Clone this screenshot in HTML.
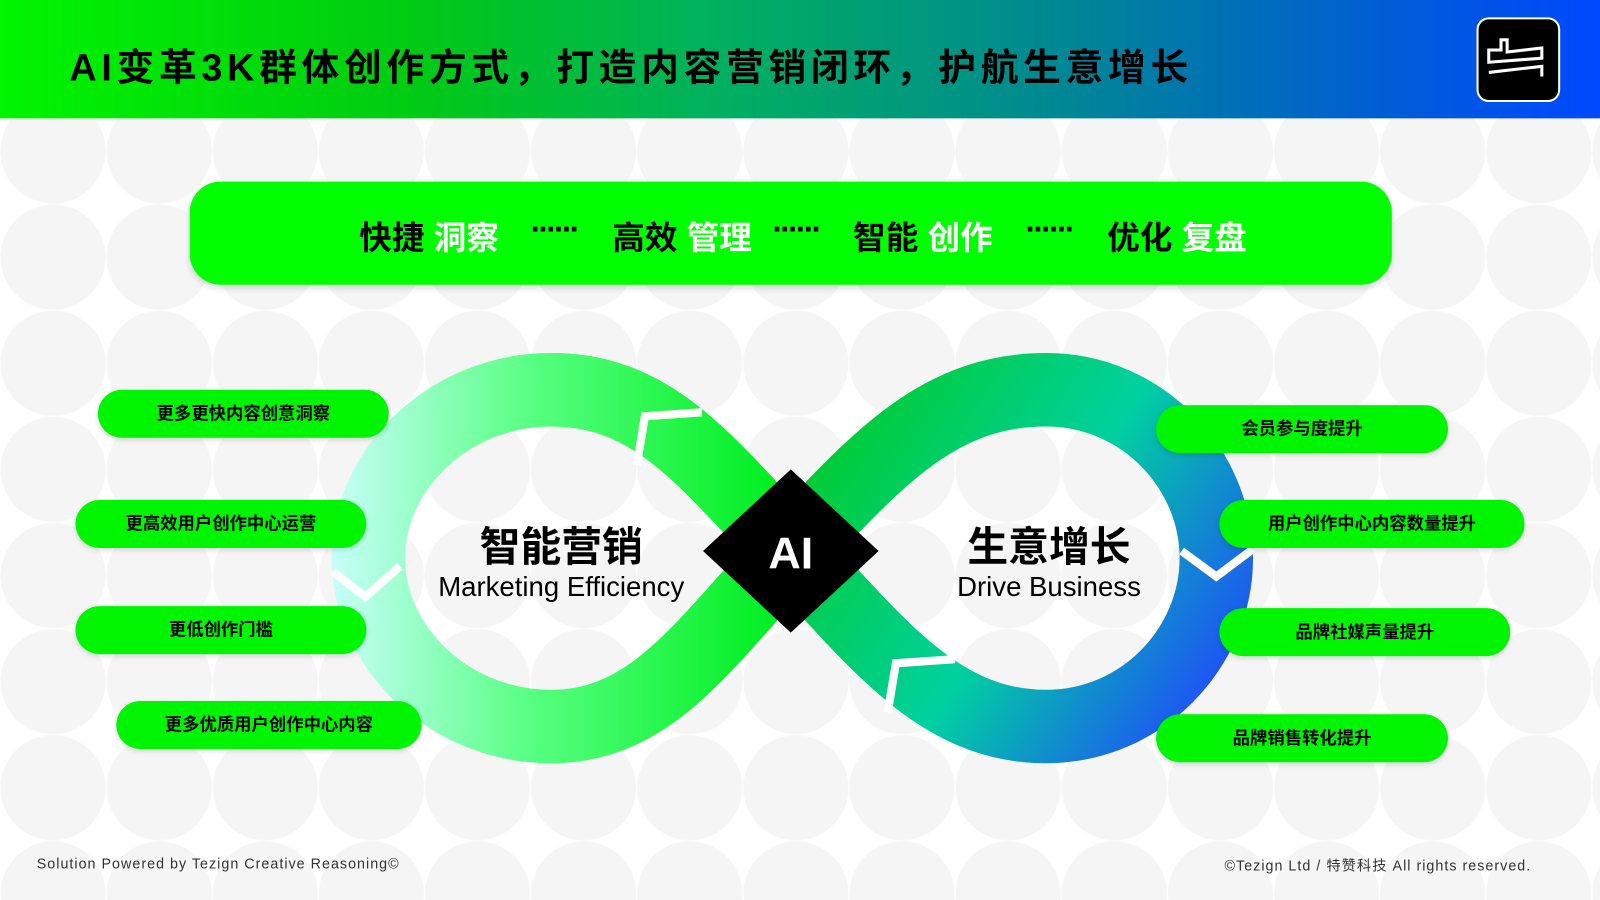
<!DOCTYPE html>
<html><head><meta charset="utf-8"><style>
html,body{margin:0;padding:0;width:1600px;height:900px;overflow:hidden;background:#fff}
#s{position:absolute;left:0;top:0;width:1568px;height:882px;transform:scale(1.0204);transform-origin:0 0;
background:#fff radial-gradient(circle at 52px 52px,#f5f5f5 0,#f5f5f5 51px,#fff 52px) 0 96px/104px 104px;font-family:"Liberation Sans","Noto Sans CJK SC",sans-serif}
.hdr{position:absolute;left:0;top:0;width:1568px;height:116px;background:linear-gradient(90deg,#00f500 0%,#00cc11 25%,#00b060 45%,#008a90 65%,#0060d0 85%,#0048ff 100%)}
.title{position:absolute;left:68px;top:36px;font-size:37px;font-weight:bold;color:#000;letter-spacing:4.6px}
.logo{position:absolute;left:1447px;top:17px;width:78px;height:79px;background:#000;border:2px solid #fff;border-radius:12px}
.ban{position:absolute;left:186px;top:178px;width:1178px;height:101px;background:#00ff00;border-radius:30px;box-shadow:0 3px 6px rgba(0,0,0,.15)}
.bt{position:absolute;top:208px;font-size:32px;font-weight:bold;color:#000}
.bt span{color:#fff}
.dots{position:absolute;top:206px;font-size:32px;font-weight:bold;letter-spacing:-3px}
.pill{position:absolute;height:47px;background:#00f500;border-radius:24px;box-shadow:0 2px 5px rgba(0,0,0,.15);font-size:17px;font-weight:bold;text-align:center;line-height:47px;color:#000}
.big{position:absolute;font-size:40px;font-weight:bold;text-align:center;width:300px}
.sub{position:absolute;font-size:27px;text-align:center;width:300px;color:#000}
.foot{position:absolute;top:838px;font-size:14px;color:#333;letter-spacing:1px}
</style></head><body><div id="s">
<div class="hdr"></div>
<div class="title">AI变革3K群体创作方式，打造内容营销闭环，护航生意增长</div>
<div class="logo"><svg width="78" height="79"><path d="M10 30 L22 30 L22 20 L28 20 L28 32 L62 28 L62 38 L10 42 Z M10 52 L62 46 L62 56" fill="none" stroke="#fff" stroke-width="3"/></svg></div>
<div class="ban"></div>
<div class="bt" style="left:352px">快捷 <span>洞察</span></div>
<div class="dots" style="left:520px">······</div>
<div class="bt" style="left:600px">高效 <span>管理</span></div>
<div class="dots" style="left:757px">······</div>
<div class="bt" style="left:836px">智能 <span>创作</span></div>
<div class="dots" style="left:1005px">······</div>
<div class="bt" style="left:1085px">优化 <span>复盘</span></div>

<svg style="position:absolute;left:0;top:0" width="1568" height="882">
<defs>
<linearGradient id="gl" x1="330" y1="0" x2="760" y2="0" gradientUnits="userSpaceOnUse">
<stop offset="0" stop-color="#c4fff6"/><stop offset="0.45" stop-color="#55ff80"/><stop offset="1" stop-color="#00ee20"/></linearGradient>
<linearGradient id="gr" x1="820" y1="400" x2="1230" y2="660" gradientUnits="userSpaceOnUse">
<stop offset="0" stop-color="#00cc30"/><stop offset="0.5" stop-color="#00d0a0"/><stop offset="1" stop-color="#2244ff"/></linearGradient>
</defs>
<path d="M775,540 C690,450 640,382 540,382 C440,382 361,460 361,547 C361,634 440,712 540,712 C640,712 690,630 775,540" fill="none" stroke="url(#gl)" stroke-width="72"/>
<path d="M775,540 C860,450 920,382 1025,382 C1120,382 1192,460 1192,547 C1192,634 1120,712 1025,712 C920,712 860,630 775,540" fill="none" stroke="url(#gr)" stroke-width="72"/>
<path d="M775,540 C690,450 640,382 540,382" fill="none" stroke="url(#gl)" stroke-width="72"/>
<polyline points="326,560 358,585 392,555" fill="none" stroke="#fff" stroke-width="8"/>
<polyline points="1158,540 1192,565 1228,538" fill="none" stroke="#fff" stroke-width="8"/>
<polyline points="624,456 632,408 688,404" fill="none" stroke="#fff" stroke-width="8"/>
<polyline points="870,698 878,650 936,646" fill="none" stroke="#fff" stroke-width="8"/>
<polygon points="775,460 861,540 775,620 689,540" fill="#000"/>
<text x="775" y="557" text-anchor="middle" font-family="Liberation Sans,sans-serif" font-weight="bold" font-size="44" fill="#fff">AI</text>
</svg>
<div class="big" style="left:400px;top:504px">智能营销</div>
<div class="sub" style="left:400px;top:560px">Marketing Efficiency</div>
<div class="big" style="left:878px;top:504px">生意增长</div>
<div class="sub" style="left:878px;top:560px">Drive Business</div>

<div class="pill" style="left:96px;top:382px;width:285px">更多更快内容创意洞察</div>
<div class="pill" style="left:74px;top:490px;width:285px">更高效用户创作中心运营</div>
<div class="pill" style="left:74px;top:594px;width:285px">更低创作门槛</div>
<div class="pill" style="left:114px;top:687px;width:299px">更多优质用户创作中心内容</div>
<div class="pill" style="left:1133px;top:397px;width:286px">会员参与度提升</div>
<div class="pill" style="left:1195px;top:490px;width:299px">用户创作中心内容数量提升</div>
<div class="pill" style="left:1195px;top:596px;width:285px">品牌社媒声量提升</div>
<div class="pill" style="left:1133px;top:700px;width:286px">品牌销售转化提升</div>

<div class="foot" style="left:36px">Solution Powered by Tezign Creative Reasoning©</div>
<div class="foot" style="left:1200px">©Tezign Ltd / 特赞科技 All rights reserved.</div>
</div></body></html>
